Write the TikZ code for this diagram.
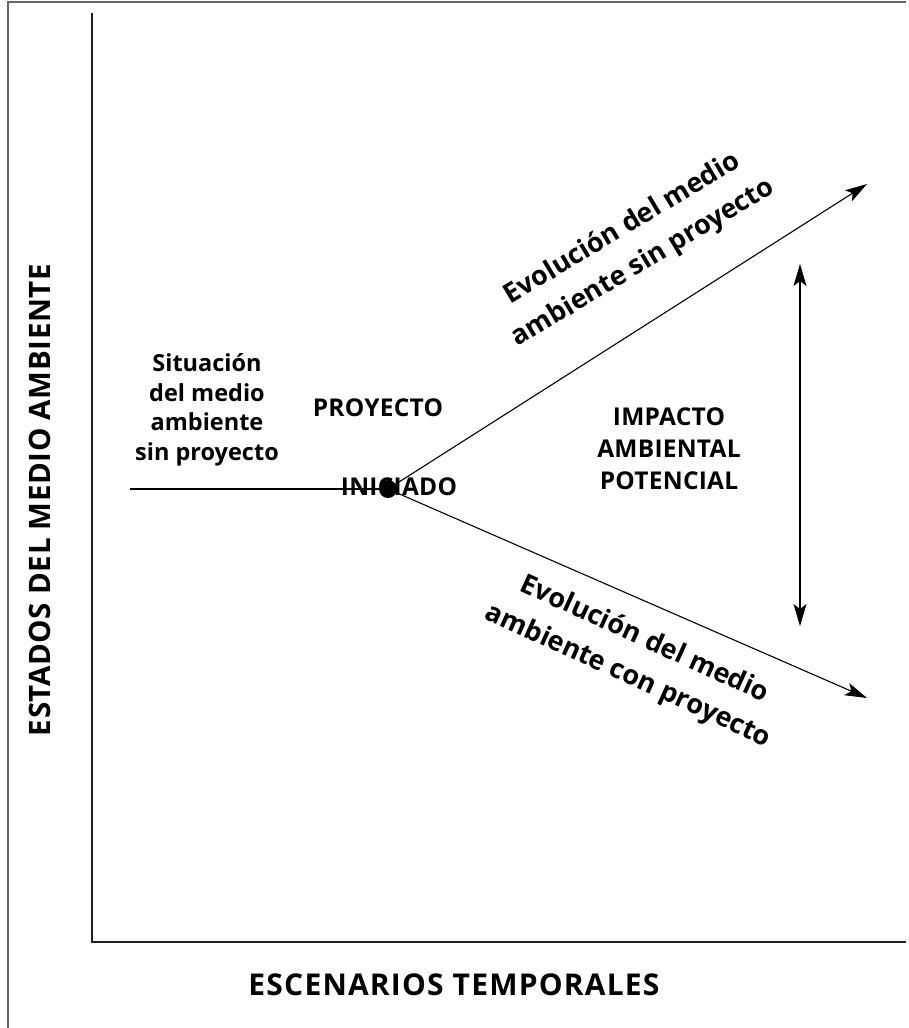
\documentclass[tikz,border=0pt]{standalone}
\usepackage{fontspec}
\setmainfont{Open Sans}
\usetikzlibrary{arrows.meta}
\begin{document}
\begin{tikzpicture}[x=1pt,y=-1pt,
  frameline/.style={draw=black!60,line width=1.4pt},
  axisline/.style={draw=black!88,line width=2.8pt},
  trendline/.style={draw=black,line width=1.1pt,-{Stealth[length=22pt,width=13pt,inset=5pt]}},
  spanline/.style={draw=black,line width=1.1pt,{Stealth[length=22pt,width=13pt,inset=5pt]}-{Stealth[length=22pt,width=13pt,inset=5pt]}},
  lbl/.style={font=\fontsize{23.5}{29.5}\selectfont\bfseries,align=center,inner sep=0pt},
  caplbl/.style={font=\fontsize{24.5}{32}\selectfont\bfseries\addfontfeature{LetterSpace=1},align=center,inner sep=0pt},
  biglbl/.style={font=\fontsize{27}{40}\selectfont\bfseries,align=center,inner sep=0pt},
  ylbl/.style={font=\fontsize{29.5}{32}\selectfont\bfseries\addfontfeature{LetterSpace=2},inner sep=0pt},
  xlbl/.style={font=\fontsize{30}{32}\selectfont\bfseries\addfontfeature{LetterSpace=4},inner sep=0pt}]
\useasboundingbox (0,0) rectangle (909,1028);

% outer frame (left and top edges)
\draw[frameline] (8,1028) -- (8,2) -- (906,2);

% axes
\coordinate (ytop) at (92,13);
\coordinate (orig) at (92,942);
\coordinate (xend) at (906,942);
\draw[axisline] (ytop) -- (orig) -- (xend);

% project start point and the two scenarios
\coordinate (base) at (130,489);
\coordinate (start) at (388,489);
\coordinate (up) at (867,184);
\coordinate (down) at (867,698);
\coordinate (spantop) at (800,264);
\coordinate (spanbot) at (800,626);

\draw[draw=black,line width=1.1pt] (base) -- (start);
\node[caplbl] (ini) at (399,487) {INICIADO};
\draw[trendline] (start) -- (up);
\draw[trendline] (start) -- (down);
\fill (start) circle (9);
\draw[spanline] (spantop) -- (spanbot);

% labels
\node[lbl] (sit) at (207,410) {Situación\\del medio\\ambiente\\sin proyecto};
\node[caplbl] (proy) at (378,408) {PROYECTO};
\node[caplbl] (imp) at (669,449) {IMPACTO\\AMBIENTAL\\POTENCIAL};
\node[biglbl,rotate=31] (sinp) at (633,246) {Evolución del medio\\ambiente sin proyecto};
\node[biglbl,rotate=-24.5] (conp) at (636,658) {Evolución del medio\\ambiente con proyecto};

% axis titles
\node[ylbl,rotate=90] (ylab) at (40,500) {ESTADOS DEL MEDIO AMBIENTE};
\node[xlbl] (xlab) at (454,985) {ESCENARIOS TEMPORALES};
\end{tikzpicture}
\end{document}
